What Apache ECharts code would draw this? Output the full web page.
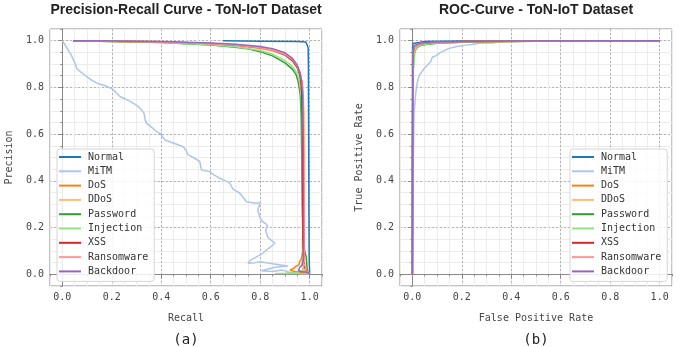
<!DOCTYPE html>
<html>
<head>
<meta charset="utf-8">
<script src="https://cdn.jsdelivr.net/npm/echarts@6/dist/echarts.min.js"></script>
<style>
html, body { margin: 0; padding: 0; background: #fff; }
#chart { width: 700px; height: 347px; }
</style>
</head>
<body>
<div id="chart"></div>
<script>
// 类别与颜色
var classNames = ['Normal', 'MiTM', 'DoS', 'DDoS', 'Password', 'Injection', 'XSS', 'Ransomware', 'Backdoor'];
var classColors = ['#1f77b4', '#aec7e8', '#ff7f0e', '#ffbb78', '#2ca02c', '#98df8a', '#d62728', '#ff9896', '#9467bd'];
var tickValues = [0, 0.2, 0.4, 0.6, 0.8, 1.0];

// PR 曲线 [recall, precision]
var prNormal = [[0.65,1.0],[0.8,0.998],[0.95,0.996],[0.985,0.994],[0.991,0.99],[0.994,0.97],[0.995,0.9],[0.996,0.6],[0.997,0.3],[0.998,0.08],[1.0,0.0]];
var prMiTM = [[0.0,1.0],[0.005,0.995],[0.015,0.975],[0.025,0.958],[0.035,0.94],[0.046,0.916],[0.052,0.9],[0.059,0.88],[0.075,0.865],[0.1,0.845],[0.12,0.83],[0.14,0.818],[0.17,0.808],[0.2,0.795],[0.215,0.78],[0.234,0.76],[0.26,0.748],[0.288,0.732],[0.305,0.72],[0.321,0.703],[0.33,0.69],[0.335,0.66],[0.341,0.646],[0.36,0.63],[0.382,0.61],[0.395,0.603],[0.415,0.575],[0.44,0.565],[0.489,0.546],[0.5,0.53],[0.509,0.511],[0.53,0.5],[0.556,0.482],[0.56,0.46],[0.563,0.446],[0.597,0.439],[0.615,0.425],[0.637,0.411],[0.66,0.4],[0.677,0.39],[0.69,0.365],[0.718,0.347],[0.73,0.33],[0.745,0.311],[0.775,0.305],[0.8,0.305],[0.795,0.29],[0.79,0.275],[0.795,0.258],[0.8,0.24],[0.81,0.225],[0.825,0.215],[0.83,0.204],[0.822,0.19],[0.83,0.161],[0.845,0.145],[0.86,0.133],[0.845,0.12],[0.825,0.104],[0.81,0.09],[0.785,0.075],[0.76,0.06],[0.751,0.047],[0.78,0.05],[0.8,0.054],[0.85,0.045],[0.912,0.036],[0.86,0.03],[0.805,0.015],[0.85,0.012],[0.89,0.018],[0.93,0.006],[1.0,0.002]];
var prDoS = [[0.045,1.0],[0.2,0.998],[0.4,0.994],[0.6,0.986],[0.7,0.98],[0.8,0.968],[0.85,0.957],[0.9,0.938],[0.93,0.915],[0.95,0.885],[0.962,0.85],[0.97,0.8],[0.974,0.7],[0.976,0.45],[0.975,0.2],[0.972,0.1],[0.966,0.065],[0.96,0.055],[0.956,0.04],[0.945,0.035],[0.935,0.025],[0.92,0.018],[0.94,0.012],[0.97,0.008],[1.0,0.003]];
var prDDoS = [[0.05,1.0],[0.2,0.997],[0.4,0.993],[0.6,0.986],[0.7,0.98],[0.8,0.968],[0.85,0.958],[0.9,0.94],[0.93,0.918],[0.95,0.89],[0.963,0.855],[0.972,0.8],[0.977,0.7],[0.978,0.5],[0.976,0.3],[0.973,0.2],[0.97,0.12],[0.974,0.07],[0.968,0.04],[0.972,0.02],[0.985,0.01],[1.0,0.004]];
var prPassword = [[0.045,1.0],[0.2,0.997],[0.4,0.992],[0.6,0.982],[0.7,0.972],[0.75,0.965],[0.8,0.953],[0.85,0.935],[0.9,0.905],[0.93,0.878],[0.945,0.855],[0.955,0.82],[0.962,0.77],[0.966,0.68],[0.968,0.5],[0.97,0.3],[0.973,0.15],[0.98,0.1],[0.986,0.075],[0.988,0.05],[0.99,0.02],[0.993,0.008],[1.0,0.003]];
var prInjection = [[0.05,1.0],[0.2,0.997],[0.4,0.992],[0.6,0.983],[0.7,0.974],[0.8,0.958],[0.85,0.942],[0.9,0.915],[0.93,0.89],[0.95,0.86],[0.96,0.82],[0.966,0.76],[0.969,0.6],[0.971,0.35],[0.973,0.15],[0.976,0.08],[0.978,0.04],[0.975,0.02],[0.95,0.008],[0.9,0.005],[0.86,0.004],[0.95,0.003],[1.0,0.002]];
var prXSS = [[0.045,1.0],[0.2,0.998],[0.4,0.995],[0.6,0.988],[0.7,0.982],[0.8,0.97],[0.85,0.96],[0.9,0.94],[0.93,0.915],[0.95,0.885],[0.96,0.855],[0.965,0.82],[0.968,0.77],[0.97,0.6],[0.972,0.35],[0.973,0.15],[0.975,0.08],[0.978,0.05],[0.98,0.03],[0.985,0.015],[0.99,0.008],[1.0,0.003]];
var prRansomware = [[0.05,1.0],[0.2,0.998],[0.4,0.994],[0.6,0.987],[0.7,0.981],[0.8,0.97],[0.85,0.96],[0.9,0.942],[0.93,0.92],[0.95,0.89],[0.962,0.86],[0.97,0.82],[0.974,0.74],[0.976,0.55],[0.977,0.3],[0.978,0.12],[0.98,0.06],[0.975,0.045],[0.985,0.03],[0.98,0.02],[0.99,0.012],[1.0,0.004]];
var prBackdoor = [[0.045,1.0],[0.2,0.999],[0.4,0.996],[0.6,0.99],[0.7,0.985],[0.8,0.975],[0.85,0.966],[0.9,0.948],[0.93,0.925],[0.95,0.895],[0.96,0.865],[0.967,0.83],[0.972,0.77],[0.974,0.6],[0.975,0.35],[0.976,0.15],[0.975,0.07],[0.97,0.04],[0.96,0.03],[0.955,0.015],[0.965,0.012],[0.97,0.02],[0.985,0.01],[1.0,0.003]];

// ROC 曲线 [FPR, TPR]
var rocNormal = [[0,0],[0.0005,0.9],[0.001,0.97],[0.003,0.988],[0.01,0.994],[0.05,0.997],[0.2,0.999],[1,1]];
var rocMiTM = [[0,0],[0.004,0.5],[0.007,0.69],[0.014,0.78],[0.02,0.82],[0.027,0.85],[0.047,0.88],[0.06,0.895],[0.074,0.91],[0.081,0.93],[0.095,0.935],[0.108,0.946],[0.125,0.955],[0.148,0.967],[0.18,0.975],[0.216,0.981],[0.24,0.984],[0.27,0.989],[0.33,0.99],[0.34,0.997],[0.6,0.999],[1,1]];
var rocDoS = [[0,0],[0.001,0.6],[0.002,0.9],[0.004,0.955],[0.008,0.972],[0.015,0.98],[0.03,0.986],[0.08,0.991],[0.2,0.995],[0.4,0.998],[0.7,0.999],[1,1]];
var rocDDoS = [[0,0],[0.001,0.55],[0.002,0.88],[0.005,0.95],[0.01,0.97],[0.02,0.979],[0.04,0.985],[0.1,0.99],[0.25,0.995],[0.5,0.998],[1,1]];
var rocPassword = [[0,0],[0.001,0.5],[0.003,0.85],[0.006,0.93],[0.012,0.96],[0.02,0.972],[0.04,0.982],[0.1,0.989],[0.25,0.995],[0.5,0.998],[1,1]];
var rocInjection = [[0,0],[0.001,0.5],[0.003,0.86],[0.006,0.935],[0.012,0.962],[0.022,0.975],[0.045,0.984],[0.1,0.99],[0.25,0.995],[0.5,0.998],[1,1]];
var rocXSS = [[0,0],[0.001,0.6],[0.002,0.9],[0.004,0.958],[0.008,0.974],[0.015,0.982],[0.03,0.987],[0.08,0.992],[0.2,0.996],[0.45,0.998],[1,1]];
var rocRansomware = [[0,0],[0.001,0.6],[0.002,0.91],[0.004,0.96],[0.008,0.975],[0.015,0.983],[0.03,0.988],[0.08,0.992],[0.2,0.996],[0.45,0.998],[1,1]];
var rocBackdoor = [[0,0],[0.001,0.65],[0.002,0.93],[0.004,0.966],[0.008,0.979],[0.015,0.985],[0.03,0.99],[0.08,0.994],[0.2,0.997],[0.45,0.999],[1,1]];

var prCurves = [prNormal, prMiTM, prDoS, prDDoS, prPassword, prInjection, prXSS, prRansomware, prBackdoor];
var rocCurves = [rocNormal, rocMiTM, rocDoS, rocDDoS, rocPassword, rocInjection, rocXSS, rocRansomware, rocBackdoor];

var monoFont = 'DejaVu Sans Mono';
var labelColor = '#444';

// 细网格（0.05 间隔）
function minorAxis(gridIndex, isX) {
    return {
        type: 'value', gridIndex: gridIndex, position: isX ? 'bottom' : 'left',
        min: -0.05, max: 1.05, interval: 0.05,
        axisLine: { show: false },
        axisTick: { show: true, length: 2, lineStyle: { color: '#888' } },
        axisLabel: { show: false },
        splitLine: { show: true, lineStyle: { color: '#ececec', width: 1 } }
    };
}
// 主刻度（0.2 间隔，虚线）
function majorAxis(gridIndex, isX, name) {
    return {
        type: 'value', gridIndex: gridIndex, position: isX ? 'bottom' : 'left',
        min: -0.05, max: 1.05, splitNumber: 5,
        name: name, nameLocation: 'middle', nameGap: isX ? 27 : 36,
        nameTextStyle: { fontFamily: monoFont, fontSize: 10, color: labelColor },
        axisLine: { show: true, lineStyle: { color: '#888', width: 1 } },
        axisTick: { show: true, length: 4, customValues: tickValues, lineStyle: { color: '#888' } },
        axisLabel: {
            customValues: tickValues, margin: 6,
            fontFamily: monoFont, fontSize: 10, color: labelColor,
            formatter: function (v) { return v.toFixed(1); }
        },
        splitLine: { show: true, lineStyle: { color: '#b4b4b4', type: [2, 2], width: 1 } }
    };
}

function legendOpt(left) {
    return {
        orient: 'vertical', left: left, top: 149,
        data: classNames,
        icon: 'rect',
        itemWidth: 22, itemHeight: 2, itemGap: 2.3,
        padding: [2, 6, 4, 2],
        backgroundColor: 'rgba(255,255,255,0.85)',
        borderColor: '#d6d6d6', borderWidth: 1, borderRadius: 3,
        textStyle: { fontFamily: monoFont, fontSize: 10, color: '#333', lineHeight: 12, padding: [0, 0, 0, 2] }
    };
}

var series = [];
classNames.forEach(function (name, i) {
    series.push({
        name: name, type: 'line', xAxisIndex: 1, yAxisIndex: 1,
        data: prCurves[i], symbol: 'none', animation: false,
        lineStyle: { width: 1.5, color: classColors[i] }, itemStyle: { color: classColors[i] }
    });
});
classNames.forEach(function (name, i) {
    series.push({
        name: name, type: 'line', xAxisIndex: 3, yAxisIndex: 3,
        data: rocCurves[i], symbol: 'none', animation: false,
        lineStyle: { width: 1.5, color: classColors[i] }, itemStyle: { color: classColors[i] }
    });
});

var chart = echarts.init(document.getElementById('chart'));
var option = {
    backgroundColor: '#fff',
    animation: false,
    title: [
        { text: 'Precision-Recall Curve - ToN-IoT Dataset', left: 186, top: 3, textAlign: 'center', padding: 0,
          textStyle: { fontFamily: 'Liberation Sans', fontWeight: 'bold', fontSize: 14, color: '#222' } },
        { text: 'ROC-Curve - ToN-IoT Dataset', left: 536, top: 3, textAlign: 'center', padding: 0,
          textStyle: { fontFamily: 'Liberation Sans', fontWeight: 'bold', fontSize: 14, color: '#222' } },
        { text: '(a)', left: 186, top: 333, textAlign: 'center', padding: 0,
          textStyle: { fontFamily: monoFont, fontWeight: 'normal', fontSize: 14, color: '#222' } },
        { text: '(b)', left: 536, top: 333, textAlign: 'center', padding: 0,
          textStyle: { fontFamily: monoFont, fontWeight: 'normal', fontSize: 14, color: '#222' } }
    ],
    legend: [legendOpt(57), legendOpt(570)],
    grid: [
        { left: 50, top: 29, width: 272, height: 257, show: true, borderColor: '#888', borderWidth: 1, backgroundColor: '#fff' },
        { left: 400, top: 29, width: 272, height: 257, show: true, borderColor: '#888', borderWidth: 1, backgroundColor: '#fff' }
    ],
    xAxis: [minorAxis(0, true), majorAxis(0, true, 'Recall'), minorAxis(1, true), majorAxis(1, true, 'False Positive Rate')],
    yAxis: [minorAxis(0, false), majorAxis(0, false, 'Precision'), minorAxis(1, false), majorAxis(1, false, 'True Positive Rate')],
    series: series
};
chart.setOption(option);
</script>
</body>
</html>
